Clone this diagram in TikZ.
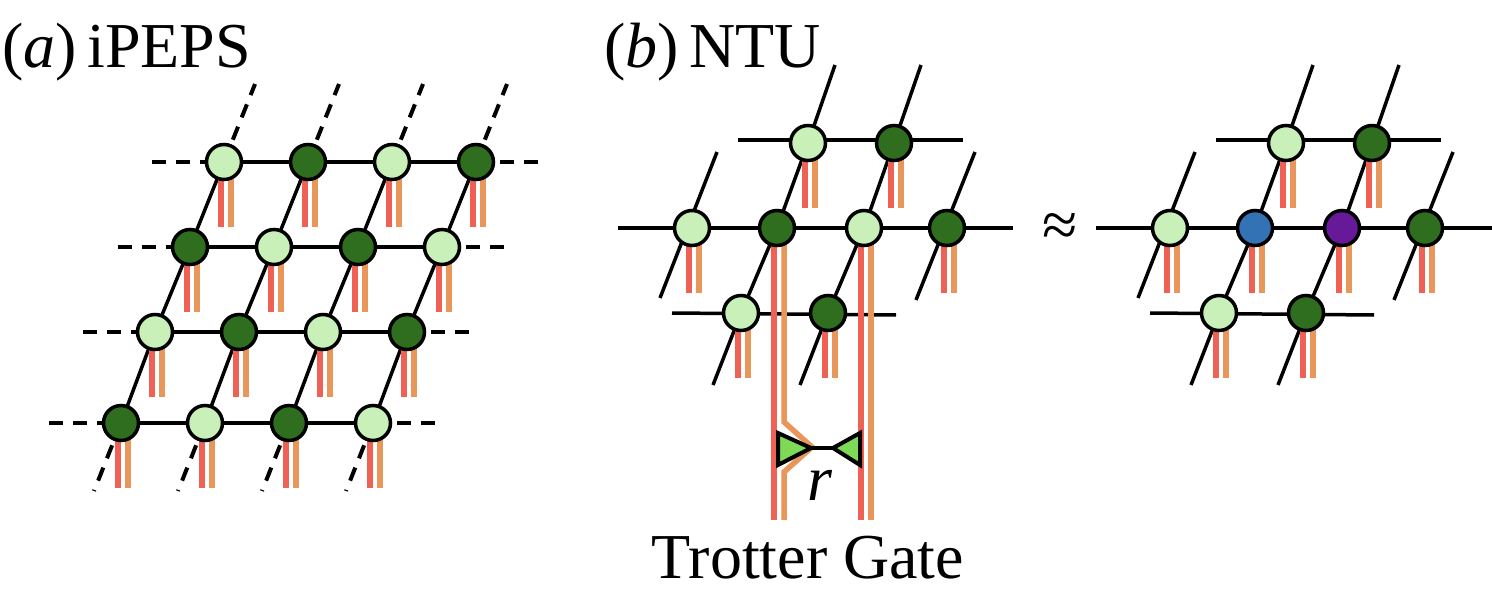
\documentclass[tikz,border=0pt]{standalone}
\usepackage{fontspec}
\setmainfont{Liberation Serif}
\usetikzlibrary{calc}
\definecolor{lg}{HTML}{C8F0B8}
\definecolor{dg}{HTML}{2F6E1E}
\definecolor{bl}{HTML}{3373B5}
\definecolor{pu}{HTML}{661A9A}
\definecolor{rl}{HTML}{EF6055}
\definecolor{ol}{HTML}{E8965A}
\definecolor{tg}{HTML}{7ED957}
\tikzset{
  site/.style={circle,draw=black,line width=3.5pt,minimum size=35pt,inner sep=0pt},
  L/.style={site,fill=lg}, D/.style={site,fill=dg}, B/.style={site,fill=bl}, P/.style={site,fill=pu},
  bond/.style={line width=3.5pt,black},
  dbond/.style={line width=4pt,black,dash pattern=on 14pt off 10pt},
  rleg/.style={line width=5.5pt,rl}, oleg/.style={line width=5.5pt,ol},
  lbl/.style={font=\fontsize{64}{64}\selectfont,inner sep=0pt}
}
\begin{document}
\begin{tikzpicture}[x=1pt,y=-1pt]
\useasboundingbox (0,0) rectangle (1492,610);
% ---------- panel a ----------
\foreach \r/\x/\y in {1/224/162,2/190/247,3/155/332,4/121/423}{
  \foreach \c in {1,2,3,4}{
    \pgfmathsetmacro\xx{\x+84*(\c-1)}
    \coordinate (a\r\c) at (\xx,\y);
  }
}
\foreach \r in {1,2,3,4}{
  \draw[bond] (a\r1) -- (a\r4);
  \draw[dbond] ($(a\r1)+(-72,0)$) -- (a\r1);
  \draw[dbond] (a\r4) -- ($(a\r4)+(72,0)$);
}
\foreach \c in {1,2,3,4}{
  \draw[bond] (a4\c) -- (a3\c) -- (a2\c) -- (a1\c);
  \draw[dbond] (a1\c) -- ($(a1\c)+(31,-78)$);
  \draw[dbond] (a4\c) -- ($(a4\c)+(-27,68)$);
}
\foreach \r in {1,...,4}{\foreach \c in {1,...,4}{
  \draw[rleg] ($(a\r\c)+(-3,15)$) -- ++(0,50);
  \draw[oleg] ($(a\r\c)+(7,15)$) -- ++(0,50);
}}
\foreach \r/\ta/\tb in {1/L/D,2/D/L,3/L/D,4/D/L}{
  \node[\ta] (na\r1) at (a\r1) {}; \node[\tb] (na\r2) at (a\r2) {};
  \node[\ta] (na\r3) at (a\r3) {}; \node[\tb] (na\r4) at (a\r4) {};
}
\node[lbl,anchor=base west] (la) at (2,68) {(\textit{a})\,iPEPS};
% ---------- panel b ----------
\foreach \p/\dx in {b/0,c/478}{
  \coordinate (\p t1) at (808+\dx,143); \coordinate (\p t2) at (894+\dx,143);
  \coordinate (\p m1) at (692+\dx,228); \coordinate (\p m2) at (777+\dx,228);
  \coordinate (\p m3) at (864+\dx,228); \coordinate (\p m4) at (947+\dx,228);
  \coordinate (\p b1) at (741+\dx,313); \coordinate (\p b2) at (828+\dx,313);
  \draw[bond] ($(\p t1)+(-70,-3)$) -- ($(\p t2)+(69,-3)$);
  \draw[bond] ($(\p m1)+(-74,0)$) -- ($(\p m4)+(66+\dx/10,0)$);
  \draw[bond] ($(\p b1)+(-69,0)$) -- ($(\p b2)+(68,2)$);
  \draw[bond] ($(\p t1)+(27,-78)$) -- (\p t1) -- (\p m2) -- (\p b1) -- ($(\p b1)+(-28,72)$);
  \draw[bond] ($(\p t2)+(27,-78)$) -- (\p t2) -- (\p m3) -- (\p b2) -- ($(\p b2)+(-28,72)$);
  \draw[bond] ($(\p m1)+(25,-76)$) -- ($(\p m1)+(-32,70)$);
  \draw[bond] ($(\p m4)+(28,-76)$) -- ($(\p m4)+(-31,72)$);
}
\foreach \n in {bt1,bt2,bm1,bm4,bb1,bb2,ct1,ct2,cm1,cm2,cm3,cm4,cb1,cb2}{
  \draw[rleg] ($(\n)+(-3,15)$) -- ++(0,50);
  \draw[oleg] ($(\n)+(7,15)$) -- ++(0,50);
}
% trotter legs
\draw[rleg] ($(bm2)+(-3,15)$) -- ($(bm2)+(-3,292)$);
\draw[oleg,line join=miter] ($(bm2)+(7,15)$) -- ($(bm2)+(7,194)$) -- ($(bm2)+(35,219)$) -- ($(bm2)+(7,244)$) -- ($(bm2)+(7,292)$);
\draw[rleg] ($(bm3)+(-3,15)$) -- ($(bm3)+(-3,292)$);
\draw[oleg] ($(bm3)+(7,15)$) -- ($(bm3)+(7,292)$);
\coordinate (tl) at (811,448); \coordinate (tr) at (833,448);
\draw[bond] (tl) -- (tr);
\draw[line width=4pt,fill=tg,line join=miter] (778,433) -- (tl) -- (778,465) -- cycle;
\draw[line width=4pt,fill=tg,line join=miter] (860,433) -- (tr) -- (860,465) -- cycle;
\node[lbl,anchor=base] (rr) at (820,500) {\textit{r}};
\node[lbl,anchor=base] (tgl) at (808,578) {Trotter Gate};
\foreach \p in {b,c}{
  \node[L] (n\p t1) at (\p t1) {}; \node[D] (n\p t2) at (\p t2) {};
  \node[L] (n\p m1) at (\p m1) {};
  \node[L] (n\p b1) at (\p b1) {}; \node[D] (n\p b2) at (\p b2) {};
  \node[D] (n\p m4) at (\p m4) {};
}
\node[D] (nbm2) at (bm2) {}; \node[L] (nbm3) at (bm3) {};
\node[B] (ncm2) at (cm2) {}; \node[P] (ncm3) at (cm3) {};
\node[lbl,anchor=base west] (lb) at (604,68) {(\textit{b})\,NTU};
\node[lbl,anchor=base] (ap) at (1060,246) {≈};
\end{tikzpicture}
\end{document}
